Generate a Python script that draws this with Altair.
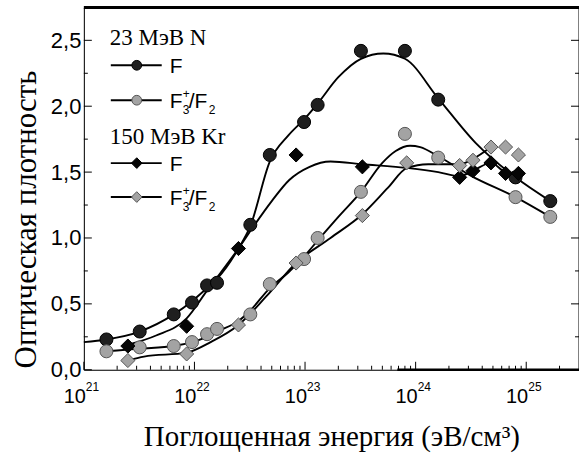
import altair as alt
import pandas as pd

# ---------------- data ----------------
# 23 MeV N irradiation: absorbed energy (eV/cm^3)
n_energy = [1.6e21, 3.2e21, 6.5e21, 9.5e21, 1.3e22, 1.6e22, 3.2e22, 4.8e22,
            9.8e22, 1.3e23, 3.2e23, 8.0e23, 1.6e24, 8.0e24, 1.65e25]
n_F = [0.23, 0.29, 0.42, 0.51, 0.64, 0.66, 1.10, 1.63,
       1.88, 2.01, 2.42, 2.42, 2.05, 1.46, 1.28]
n_F3 = [0.14, 0.17, 0.18, 0.21, 0.27, 0.31, 0.42, 0.65,
        0.84, 1.00, 1.35, 1.79, 1.61, 1.31, 1.16]

# 150 MeV Kr irradiation
kr_energy_F = [2.5e21, 8.5e21, 2.5e22, 8.3e22, 3.3e23, 2.5e24, 3.3e24, 4.8e24, 6.5e24, 8.5e24]
kr_F = [0.18, 0.33, 0.92, 1.63, 1.54, 1.46, 1.51, 1.57, 1.49, 1.49]
kr_energy_F3 = [2.5e21, 8.5e21, 2.5e22, 8.3e22, 3.3e23, 8.3e23, 2.5e24, 3.3e24, 4.8e24, 6.5e24, 8.5e24]
kr_F3 = [0.07, 0.12, 0.34, 0.81, 1.17, 1.57, 1.55, 1.59, 1.69, 1.69, 1.63]

# fitted curves
curve_nF_E = [1.0e21, 1.6e21, 3.2e21, 6.5e21, 9.5e21, 1.3e22, 1.6e22, 2.5e22, 3.2e22, 4.8e22,
              7.1e22, 9.8e22, 1.3e23, 2.0e23, 3.2e23, 5.1e23, 8.0e23, 1.6e24, 3.5e24, 8.0e24, 1.65e25]
curve_nF_OD = [0.21, 0.23, 0.29, 0.42, 0.52, 0.62, 0.69, 0.92, 1.09, 1.58,
               1.78, 1.90, 2.02, 2.22, 2.36, 2.40, 2.36, 2.06, 1.72, 1.46, 1.28]

curve_nF3_E = [1.6e21, 3.2e21, 6.5e21, 9.5e21, 1.3e22, 1.6e22, 2.5e22, 3.2e22, 4.8e22, 7.1e22,
               9.8e22, 1.3e23, 2.0e23, 3.2e23, 5.0e23, 6.6e23, 8.9e23, 1.1e24, 1.6e24, 3.2e24, 8.0e24, 1.65e25]
curve_nF3_OD = [0.14, 0.16, 0.18, 0.21, 0.25, 0.29, 0.37, 0.45, 0.62, 0.74,
                0.86, 0.98, 1.16, 1.35, 1.57, 1.66, 1.70, 1.69, 1.62, 1.47, 1.31, 1.16]

curve_krF_E = [2.5e21, 4.5e21, 8.5e21, 1.3e22, 1.6e22, 2.5e22, 3.5e22, 5.0e22, 7.2e22, 1.1e23,
               1.7e23, 3.3e23, 8.7e23, 1.6e24, 2.5e24, 3.3e24, 4.8e24, 6.5e24, 8.5e24]
curve_krF_OD = [0.19, 0.26, 0.39, 0.60, 0.70, 0.92, 1.10, 1.28, 1.44, 1.54,
                1.58, 1.56, 1.53, 1.50, 1.47, 1.51, 1.57, 1.50, 1.49]

curve_krF3_E = [2.5e21, 3.5e21, 8.5e21, 1.4e22, 2.5e22, 4.5e22, 8.3e22, 1.7e23, 3.3e23, 5.6e23,
                8.3e23, 1.3e24, 2.5e24, 3.3e24, 4.8e24]
curve_krF3_OD = [0.07, 0.10, 0.13, 0.21, 0.34, 0.56, 0.81, 1.00, 1.18, 1.38,
                 1.53, 1.56, 1.56, 1.60, 1.69]

# axis ticks / labels
decades = [1e21, 1e22, 1e23, 1e24, 1e25]
decade_exp = ["21", "22", "23", "24", "25"]
minor_x = [k * d for d in [1e21, 1e22, 1e23, 1e24] for k in range(2, 10)] + [2e25]
y_major = [0.0, 0.5, 1.0, 1.5, 2.0, 2.5]
y_minor = [0.25, 0.75, 1.25, 1.75, 2.25]

# ---------------- layout ----------------
W, H = 496, 363
SANS = "Liberation Sans"
SERIF = "Liberation Serif"
xs = alt.Scale(type="log", domain=[1e21, 3e25])
ys = alt.Scale(domain=[0, 2.75])

BLACK_FILL, BLACK_STROKE = "#1f1f1f", "#000000"
GRAY_FILL, GRAY_STROKE = "#a3a3a3", "#555555"

X_AXIS = alt.Axis(
    domain=True, domainColor="black", domainWidth=1, ticks=False, labels=False, grid=False,
    titleFont=SERIF, titleFontSize=29, titleFontWeight="normal", titleColor="black",
    titleY=76, titleX=W / 2, titleAlign="center", titleBaseline="alphabetic")
Y_AXIS = alt.Axis(
    domain=True, domainColor="black", domainWidth=1, ticks=False, grid=False,
    values=y_major, labelExpr="replace(format(datum.value, '.1f'), '.', ',')",
    labelFont=SANS, labelFontSize=22, labelColor="black", labelPadding=3,
    titleFont=SERIF, titleFontSize=31, titleFontWeight="normal", titleColor="black",
    titleX=-48, titleY=212, titleAlign="center", titleBaseline="alphabetic")
X_TITLE = "Поглощенная энергия (эВ/см³)"
Y_TITLE = "Оптическая плотность"


def xe():
    return alt.X("E:Q", scale=xs, axis=X_AXIS, title=X_TITLE)


def ye():
    return alt.Y("OD:Q", scale=ys, axis=Y_AXIS, title=Y_TITLE)


def df(e, v):
    return pd.DataFrame({"E": e, "OD": v})


def curve(e, v):
    return alt.Chart(df(e, v)).mark_line(color="black", strokeWidth=1.9,
                                         interpolate="monotone").encode(x=xe(), y=ye())


def points(e, v, shape, fill, stroke, size):
    return alt.Chart(df(e, v)).mark_point(
        shape=shape, filled=True, fill=fill, stroke=stroke, strokeWidth=1,
        size=size, opacity=1).encode(x=xe(), y=ye())


one = pd.DataFrame({"a": [0]})

layers = [
    curve(curve_nF_E, curve_nF_OD),
    curve(curve_nF3_E, curve_nF3_OD),
    curve(curve_krF_E, curve_krF_OD),
    curve(curve_krF3_E, curve_krF3_OD),
    points(n_energy, n_F, "circle", BLACK_FILL, BLACK_STROKE, 170),
    points(n_energy, n_F3, "circle", GRAY_FILL, GRAY_STROKE, 170),
    points(kr_energy_F, kr_F, "diamond", "#050505", BLACK_STROKE, 200),
    points(kr_energy_F3, kr_F3, "diamond", GRAY_FILL, GRAY_STROKE, 200),
]

# inward ticks
xt_major = pd.DataFrame({"E": decades})
xt_minor = pd.DataFrame({"E": minor_x})
yt_major = pd.DataFrame({"OD": y_major})
yt_minor = pd.DataFrame({"OD": y_minor})
layers += [
    alt.Chart(xt_major).mark_rule(color="black", strokeWidth=1).encode(x=xe(), y=alt.value(H), y2=alt.value(H - 8)),
    alt.Chart(xt_minor).mark_rule(color="black", strokeWidth=1).encode(x=xe(), y=alt.value(H), y2=alt.value(H - 4)),
    alt.Chart(yt_major).mark_rule(color="black", strokeWidth=1).encode(y=ye(), x=alt.value(0), x2=alt.value(8)),
    alt.Chart(yt_minor).mark_rule(color="black", strokeWidth=1).encode(y=ye(), x=alt.value(0), x2=alt.value(4)),
    alt.Chart(yt_major).mark_rule(color="black", strokeWidth=1).encode(y=ye(), x=alt.value(W), x2=alt.value(W - 8)),
    alt.Chart(yt_minor).mark_rule(color="black", strokeWidth=1).encode(y=ye(), x=alt.value(W), x2=alt.value(W - 4)),
    # frame top / right, heavier right part of the bottom axis line
    alt.Chart(one).mark_rule(color="black", strokeWidth=3).encode(x=alt.value(0), x2=alt.value(W), y=alt.value(0)),
    alt.Chart(one).mark_rule(color="black", strokeWidth=1).encode(x=alt.value(W), y=alt.value(0), y2=alt.value(H)),
    alt.Chart(one).mark_rule(color="black", strokeWidth=2.5).encode(x=alt.value(314), x2=alt.value(W), y=alt.value(H)),
]

# x tick labels 10^n
dec_df = pd.DataFrame({"E": decades, "exp": decade_exp})
layers += [
    alt.Chart(dec_df).mark_text(align="right", baseline="alphabetic", font=SANS, fontSize=20,
                                color="black", dx=2).encode(x=xe(), y=alt.value(H + 33), text=alt.value("10")),
    alt.Chart(dec_df).mark_text(align="left", baseline="alphabetic", font=SANS, fontSize=12,
                                color="black", dx=2).encode(x=xe(), y=alt.value(H + 21), text="exp:N"),
]

# ---------------- legend ----------------
def legend_text(txt, x, y, font, size, align="left", baseline="middle"):
    return alt.Chart(one).mark_text(text=txt, font=font, fontSize=size, color="black",
                                    align=align, baseline=baseline).encode(
        x=alt.value(x), y=alt.value(y))


def legend_row(y, shape, fill, stroke, size, label_f3):
    out = [
        alt.Chart(one).mark_rule(color="black", strokeWidth=1.9).encode(
            x=alt.value(27), x2=alt.value(78), y=alt.value(y)),
        alt.Chart(one).mark_point(shape=shape, filled=True, fill=fill, stroke=stroke,
                                  strokeWidth=1, size=size, opacity=1).encode(
            x=alt.value(53), y=alt.value(y)),
        legend_text("F", 86, y + 2, SANS, 21),
    ]
    if label_f3:
        out += [
            legend_text("+", 99, y - 6, SANS, 12),
            legend_text("3", 99, y + 10, SANS, 12),
            legend_text("/F", 105, y + 2, SANS, 21),
            legend_text("2", 125, y + 10, SANS, 12),
        ]
    return out


layers += [legend_text("23 МэВ N", 26, 31, SERIF, 23)]
layers += legend_row(58, "circle", BLACK_FILL, BLACK_STROKE, 95, False)
layers += legend_row(93, "circle", GRAY_FILL, GRAY_STROKE, 95, True)
layers += [legend_text("150 МэВ Kr", 26, 130, SERIF, 23)]
layers += legend_row(156, "diamond", "#050505", BLACK_STROKE, 115, False)
layers += legend_row(190, "diamond", GRAY_FILL, GRAY_STROKE, 115, True)

chart = alt.layer(*layers).properties(
    width=W, height=H,
    autosize=alt.AutoSizeParams(type="none"),
    padding={"left": 84, "top": 7, "right": 0, "bottom": 86},
).configure_view(stroke=None).configure(background="white")

chart.save("out.html", embed_options={"renderer": "svg", "actions": False})
